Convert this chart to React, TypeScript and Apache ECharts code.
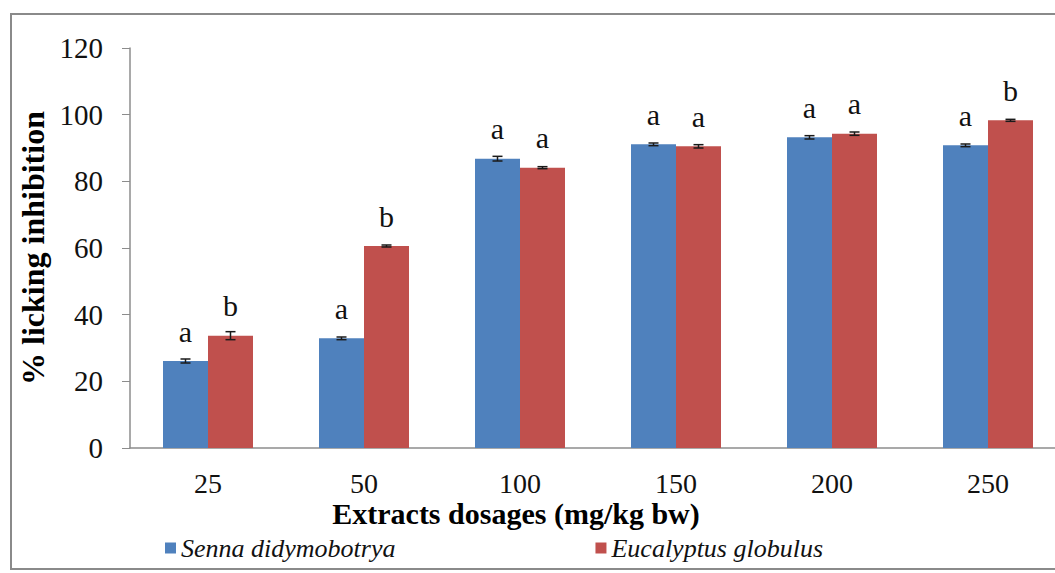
import React, { useEffect, useRef } from "react";
import * as echarts from "echarts";

// Dosage groups and mean % licking inhibition for each extract
const dosages = ["25", "50", "100", "150", "200", "250"];
const sennaValues = [26.1, 32.9, 86.8, 91.1, 93.2, 90.8];
const eucalyptusValues = [33.7, 60.6, 84.1, 90.5, 94.3, 98.3];
// Standard errors of the means
const sennaErrors = [0.6, 0.4, 0.7, 0.4, 0.5, 0.4];
const eucalyptusErrors = [1.2, 0.3, 0.3, 0.5, 0.5, 0.3];
// Significance letters per dosage
const sennaLetters = ["a", "a", "a", "a", "a", "a"];
const eucalyptusLetters = ["b", "b", "a", "a", "a", "b"];
const yTicks = [0, 20, 40, 60, 80, 100, 120];

const SERIF = "Liberation Serif";
const BAR_W = 45;
const BLUE = "#4F81BD";
const RED = "#C0504D";

function errorSeries(values: number[], errors: number[], offset: number) {
  return {
    type: "custom",
    silent: true,
    z: 5,
    data: values.map((v, i) => [i, v, errors[i]]),
    renderItem: (_params: any, api: any) => {
      const idx = api.value(0);
      const v = api.value(1);
      const e = api.value(2);
      const hi = api.coord([idx, v + e]);
      const lo = api.coord([idx, v - e]);
      const x = hi[0] + offset;
      const cap = 5;
      const style = { stroke: "#1a1a1a", lineWidth: 1.5 };
      return {
        type: "group",
        children: [
          { type: "line", shape: { x1: x, y1: hi[1], x2: x, y2: lo[1] }, style },
          { type: "line", shape: { x1: x - cap, y1: hi[1], x2: x + cap, y2: hi[1] }, style },
          { type: "line", shape: { x1: x - cap, y1: lo[1], x2: x + cap, y2: lo[1] }, style },
        ],
      };
    },
  };
}

export default function App() {
  const ref = useRef<HTMLDivElement>(null);

  useEffect(() => {
    if (!ref.current) return;
    const chart = echarts.init(ref.current, undefined, { renderer: "svg" });
    const letterLabel = (letters: string[]) => ({
      show: true,
      position: "top",
      distance: 15,
      formatter: (p: any) => letters[p.dataIndex],
      fontFamily: SERIF,
      fontSize: 30,
      color: "#111",
    });
    chart.setOption({
      animation: false,
      backgroundColor: "#ffffff",
      textStyle: { fontFamily: SERIF },
      graphic: [
        {
          type: "rect",
          shape: { x: 11, y: 14, width: 1060, height: 555 },
          style: { fill: "none", stroke: "#8a8a8a", lineWidth: 2 },
          silent: true,
        },
      ],
      title: {
        text: "Extracts dosages (mg/kg bw)",
        left: 516,
        top: 498,
        padding: 0,
        textAlign: "center",
        textStyle: { fontFamily: SERIF, fontSize: 30, fontWeight: "bold", color: "#000" },
      },
      legend: {
        left: 160,
        top: 530,
        itemWidth: 11,
        itemHeight: 11,
        itemGap: 200,
        icon: "rect",
        textStyle: { fontFamily: SERIF, fontSize: 26, fontStyle: "italic", color: "#111" },
        data: ["Senna didymobotrya", "Eucalyptus globulus"],
      },
      // plot area runs slightly past the right edge of the canvas
      grid: {
        left: 130,
        width: 936,
        top: 48,
        bottom: 125,
        containLabel: false,
        outerBoundsMode: "none",
      },
      xAxis: {
        type: "category",
        data: dosages,
        axisLine: { lineStyle: { color: "#8c8c8c", width: 1.5 } },
        axisTick: { show: false },
        axisLabel: { fontFamily: SERIF, fontSize: 28, color: "#111", margin: 21 },
      },
      yAxis: {
        type: "value",
        min: 0,
        max: 120,
        interval: 20,
        name: "% licking inhibition",
        nameLocation: "middle",
        nameRotate: 90,
        nameGap: 81,
        nameTextStyle: { fontFamily: SERIF, fontSize: 32, fontWeight: "bold", color: "#000" },
        axisLine: { show: true, lineStyle: { color: "#8c8c8c", width: 1.5 } },
        axisTick: { show: true, length: 8, inside: false, lineStyle: { color: "#8c8c8c" } },
        splitLine: { show: false },
        axisLabel: {
          fontFamily: SERIF,
          fontSize: 29,
          color: "#111",
          margin: 27,
          formatter: (v: number) => (yTicks.includes(v) ? String(v) : ""),
        },
      },
      series: [
        {
          name: "Senna didymobotrya",
          type: "bar",
          data: sennaValues,
          barWidth: BAR_W,
          barGap: "0%",
          itemStyle: { color: BLUE },
          label: letterLabel(sennaLetters),
        },
        {
          name: "Eucalyptus globulus",
          type: "bar",
          data: eucalyptusValues,
          barWidth: BAR_W,
          barGap: "0%",
          itemStyle: { color: RED },
          label: letterLabel(eucalyptusLetters),
        },
        errorSeries(sennaValues, sennaErrors, -BAR_W / 2),
        errorSeries(eucalyptusValues, eucalyptusErrors, BAR_W / 2),
      ],
    });
    return () => chart.dispose();
  }, []);

  return (
    <div
      ref={ref}
      style={{ position: "absolute", left: 0, top: 0, width: 1055, height: 573 }}
    />
  );
}
